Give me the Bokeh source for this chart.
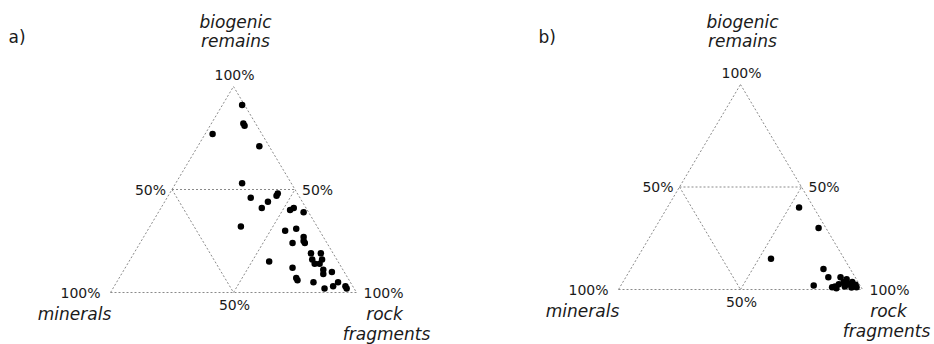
from bokeh.plotting import figure
from bokeh.models import Range1d
from bokeh.embed import file_html
from bokeh.resources import INLINE
from bokeh.core.properties import value

# ---------------- data (percent) ----------------
# panel a
a_biogenic = [91, 82, 81, 77, 71, 53, 46, 44, 41, 47, 48, 32, 40, 41, 39, 30, 31, 24, 25, 24,
              27, 15, 19, 16, 14, 19, 16, 14, 11, 9, 10, 12, 7, 6, 5, 2, 3, 5, 3, 2]
a_rock = [8, 13, 14, 3, 25, 27, 34, 42, 41, 44, 44, 37, 53, 54, 59, 56, 60, 62, 66, 67,
          65, 57, 72, 74, 76, 76, 78, 78, 81, 82, 85, 68, 72, 73, 80, 86, 89, 90, 94, 95]
a_minerals = [100 - b - r for b, r in zip(a_biogenic, a_rock)]

# panel b
b_biogenic = [40, 30, 15, 10, 6, 2, 6, 1.5, 2.6, 3.6, 2.6, 3.6, 2.3, 1.1, 1.5, 0.6, 1, 1.1, 5]
b_rock = [54, 67, 55, 79, 83, 79, 88, 88, 89, 90.5, 93, 94, 96, 97, 92, 89, 95, 87, 91]
b_minerals = [100 - b - r for b, r in zip(b_biogenic, b_rock)]

corner_labels = ["100%", "50%"]
axis_names = ["biogenic", "remains", "minerals", "rock", "fragments"]
panel_labels = ["a)", "b)"]

FONT = value("DejaVu Sans")
TXT = "#1a1a1a"

p = figure(width=934, height=344, output_backend="svg", toolbar_location=None,
           x_range=Range1d(0, 934), y_range=Range1d(344, 0),
           x_axis_type=None, y_axis_type=None, min_border=0)
p.outline_line_color = None
p.background_fill_color = "white"
p.border_fill_color = "white"


def tern(biog, rock, x0, y0, W, H):
    xs = [x0 + W * (r / 100.0 + b / 200.0) for b, r in zip(biog, rock)]
    ys = [y0 - H * b / 100.0 for b in biog]
    return xs, ys


def panel(x0, y0, W, H, biog, rock, label, dx_lab, dx_rock, dx_frag, dy_frag):
    L = (x0, y0)
    R = (x0 + W, y0)
    T = (x0 + W / 2, y0 - H)
    ml = (x0 + W / 4, y0 - H / 2)
    mr = (x0 + 3 * W / 4, y0 - H / 2)
    mb = (x0 + W / 2, y0)
    segs = [(L, T), (T, R), (L, R), (ml, mr), (ml, mb), (mb, mr)]
    p.segment(x0=[s[0][0] for s in segs], y0=[s[0][1] for s in segs],
              x1=[s[1][0] for s in segs], y1=[s[1][1] for s in segs],
              line_color="#8a8a8a", line_width=1, line_dash="2 2")
    xs, ys = tern(biog, rock, x0, y0, W, H)
    p.scatter(xs, ys, size=6.5, color="black", line_width=0)

    def t(x, y, s, align="center", italic=False, size="14px"):
        p.text([x], [y], text=[s], text_align=align, text_baseline="middle",
               text_font=FONT, text_font_size=size,
               text_font_style="italic" if italic else "normal", text_color=TXT)

    t(T[0] + 1, T[1] - 12, corner_labels[0])
    t(ml[0] - 6, ml[1], corner_labels[1], align="right")
    t(mr[0] + 7, mr[1], corner_labels[1], align="left")
    t(L[0] - 10, L[1], corner_labels[0], align="right")
    t(mb[0] + 1, mb[1] + 12, corner_labels[1])
    t(R[0] + 7, R[1], corner_labels[0], align="left")
    t(T[0] + 2, 21, axis_names[0], italic=True, size="17px")
    t(T[0] + 2, 40, axis_names[1], italic=True, size="17px")
    t(L[0] - 36, y0 + 21, axis_names[2], italic=True, size="17px")
    t(R[0] + dx_rock, y0 + 21, axis_names[3], italic=True, size="17px")
    t(R[0] + dx_frag, y0 + dy_frag, axis_names[4], italic=True, size="17px")
    t(x0 + dx_lab, 36, label, align="left", size="17px")


panel(110, 292, 246, 206, a_biogenic, a_rock, panel_labels[0], -102, 28, 30, 41)
panel(618, 289, 244, 205, b_biogenic, b_rock, panel_labels[1], -80, 26, 24, 41)

open("out.html", "w").write(file_html(p, INLINE))
